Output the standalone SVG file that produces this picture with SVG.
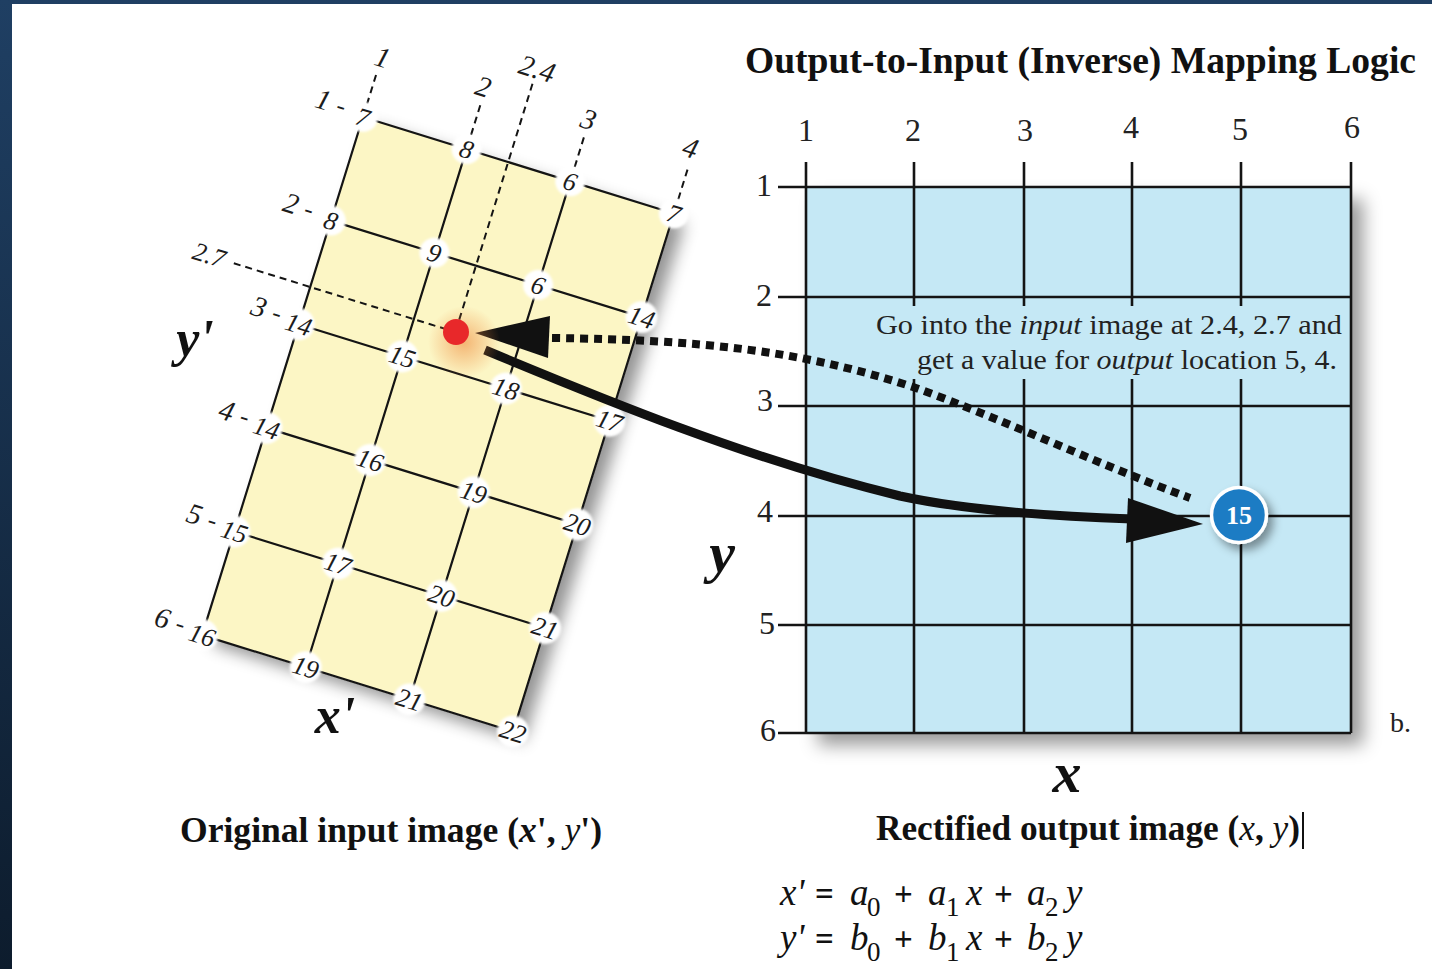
<svg xmlns="http://www.w3.org/2000/svg" width="1432" height="969" viewBox="0 0 1432 969">
<defs>
<linearGradient id="frame" x1="0" y1="0" x2="0" y2="1">
<stop offset="0" stop-color="#1f3f63"/>
<stop offset="1" stop-color="#0d1c2d"/>
</linearGradient>
<filter id="shadowL" x="-20%" y="-20%" width="150%" height="150%">
<feDropShadow dx="13" dy="6" stdDeviation="8" flood-color="#000" flood-opacity="0.42"/>
</filter>
<filter id="shadowR" x="-20%" y="-20%" width="150%" height="150%">
<feDropShadow dx="12" dy="12" stdDeviation="9" flood-color="#000" flood-opacity="0.4"/>
</filter>
<filter id="shadowS" x="-50%" y="-50%" width="200%" height="200%">
<feDropShadow dx="5" dy="6" stdDeviation="5" flood-color="#000" flood-opacity="0.4"/>
</filter>
<filter id="soft" x="-50%" y="-50%" width="200%" height="200%">
<feGaussianBlur stdDeviation="1.3"/>
</filter>
<radialGradient id="redglow">
<stop offset="0" stop-color="#ee8a3c" stop-opacity="0.6"/>
<stop offset="1" stop-color="#ee8a3c" stop-opacity="0"/>
</radialGradient>
<style>
.ln{stroke:#141414;stroke-width:2.2;fill:none}
.rl{stroke:#141414;stroke-width:2.6;fill:none}
.dsh{stroke:#141414;stroke-width:2;stroke-dasharray:7 5;fill:none}
.pc{fill:#fff;filter:url(#soft)}
.lb{font-family:"Liberation Serif",serif;font-style:italic;font-size:26px;fill:#1c1c1c;text-anchor:middle}
.pf{font-family:"Liberation Serif",serif;font-style:italic;font-size:29px;fill:#1c1c1c;text-anchor:middle}
.cl{font-family:"Liberation Serif",serif;font-style:italic;font-size:29px;fill:#1c1c1c;text-anchor:middle}
.ax{font-family:"Liberation Serif",serif;font-size:32px;fill:#222;text-anchor:middle}
.ry{font-family:"Liberation Serif",serif;font-size:32px;fill:#222;text-anchor:end}
.big{font-family:"Liberation Serif",serif;font-style:italic;font-weight:bold;fill:#111;text-anchor:middle}
.cap{font-family:"Liberation Serif",serif;font-weight:bold;font-size:35px;fill:#111}
.note{font-family:"Liberation Serif",serif;font-size:28px;fill:#222;text-anchor:end}
.eq{font-family:"Liberation Serif",serif;font-style:italic;font-size:37px;fill:#111}
.op{font-family:"Liberation Serif",serif;font-weight:bold;font-size:33px;fill:#111}
.sb{font-family:"Liberation Serif",serif;font-size:27px;fill:#111}
</style>
</defs>

<rect x="0" y="0" width="1432" height="969" fill="url(#frame)"/>
<rect x="12" y="4" width="1420" height="965" fill="#ffffff"/>

<g id="input-grid" transform="translate(363,117) rotate(17.25)">
<rect x="0" y="0" width="325.5" height="542.5" fill="#fcf6c5" filter="url(#shadowL)"/>
<path class="ln" d="M0,0H325.5M0,108.5H325.5M0,217H325.5M0,325.5H325.5M0,434H325.5M0,542.5H325.5M0,0V542.5M108.5,0V542.5M217,0V542.5M325.5,0V542.5"/>
<path class="dsh" d="M0,-44V-14M108.5,-46V-14M217,-46V-14M325.5,-46V-14"/>
<path class="dsh" d="M152,-82V178M-80,178H152"/>
<text class="cl" x="1" y="-53">1</text>
<text class="cl" x="106" y="-55">2</text>
<text class="cl" x="152" y="-88">2.4</text>
<text class="cl" x="216" y="-55">3</text>
<text class="cl" x="322" y="-58">4</text>
<text class="lb" x="-106" y="186">2.7</text>
<g>
<circle class="pc" cx="0" cy="0" r="15"/><circle class="pc" cx="108.5" cy="0" r="15"/><circle class="pc" cx="217" cy="0" r="15"/><circle class="pc" cx="325.5" cy="0" r="15"/>
<circle class="pc" cx="0" cy="108.5" r="15"/><circle class="pc" cx="108.5" cy="108.5" r="15"/><circle class="pc" cx="217" cy="108.5" r="15"/><circle class="pc" cx="325.5" cy="108.5" r="16"/>
<circle class="pc" cx="0" cy="217" r="16"/><circle class="pc" cx="108.5" cy="217" r="16"/><circle class="pc" cx="217" cy="217" r="16"/><circle class="pc" cx="325.5" cy="217" r="16"/>
<circle class="pc" cx="0" cy="325.5" r="16"/><circle class="pc" cx="108.5" cy="325.5" r="16"/><circle class="pc" cx="217" cy="325.5" r="16"/><circle class="pc" cx="325.5" cy="325.5" r="16"/>
<circle class="pc" cx="0" cy="434" r="16"/><circle class="pc" cx="108.5" cy="434" r="16"/><circle class="pc" cx="217" cy="434" r="16"/><circle class="pc" cx="325.5" cy="434" r="16"/>
<circle class="pc" cx="0" cy="542.5" r="16"/><circle class="pc" cx="108.5" cy="542.5" r="16"/><circle class="pc" cx="217" cy="542.5" r="16"/><circle class="pc" cx="325.5" cy="542.5" r="16"/>
</g>
<text class="lb" x="0" y="9">7</text><text class="lb" x="108.5" y="9">8</text><text class="lb" x="217" y="9">6</text><text class="lb" x="325.5" y="9">7</text>
<text class="lb" x="0" y="117.5">8</text><text class="lb" x="108.5" y="117.5">9</text><text class="lb" x="217" y="117.5">6</text><text class="lb" x="325.5" y="117.5">14</text>
<text class="lb" x="0" y="226">14</text><text class="lb" x="108.5" y="226">15</text><text class="lb" x="217" y="226">18</text><text class="lb" x="325.5" y="226">17</text>
<text class="lb" x="0" y="334.5">14</text><text class="lb" x="108.5" y="334.5">16</text><text class="lb" x="217" y="334.5">19</text><text class="lb" x="325.5" y="334.5">20</text>
<text class="lb" x="0" y="443">15</text><text class="lb" x="108.5" y="443">17</text><text class="lb" x="217" y="443">20</text><text class="lb" x="325.5" y="443">21</text>
<text class="lb" x="0" y="551.5">16</text><text class="lb" x="108.5" y="551.5">19</text><text class="lb" x="217" y="551.5">21</text><text class="lb" x="325.5" y="551.5">22</text>
<text class="pf" x="-43" y="5">1</text><text class="lb" x="-24" y="4">-</text>
<text class="pf" x="-43" y="113.5">2</text><text class="lb" x="-24" y="112.5">-</text>
<text class="pf" x="-43" y="222">3</text><text class="lb" x="-24" y="221">-</text>
<text class="pf" x="-43" y="330.5">4</text><text class="lb" x="-24" y="329.5">-</text>
<text class="pf" x="-43" y="439">5</text><text class="lb" x="-24" y="438">-</text>
<text class="pf" x="-43" y="547.5">6</text><text class="lb" x="-24" y="546.5">-</text>
</g>
<text class="big" x="195" y="356" font-size="52">y'</text>
<text class="big" x="335" y="733" font-size="52">x'</text>

<g id="output-grid">
<rect x="806" y="187" width="545" height="546" fill="#c5e8f5" filter="url(#shadowR)"/>
<path class="rl" d="M806,162V733M914,162V733M1024,162V733M1132,162V733M1241,162V733M1351,162V733"/>
<path class="rl" d="M778,187H1351M778,297H1351M778,406H1351M778,516H1351M778,625H1351M778,733H1351"/>
<rect x="866" y="306" width="480" height="73" fill="#c5e8f5"/>
<text class="ax" x="806" y="141">1</text>
<text class="ax" x="913" y="141">2</text>
<text class="ax" x="1025" y="141">3</text>
<text class="ax" x="1131" y="138">4</text>
<text class="ax" x="1240" y="140">5</text>
<text class="ax" x="1352" y="138">6</text>
<text class="ry" x="772" y="196">1</text>
<text class="ry" x="772" y="306">2</text>
<text class="ry" x="773" y="411">3</text>
<text class="ry" x="773" y="522">4</text>
<text class="ry" x="775" y="634">5</text>
<text class="ry" x="776" y="741">6</text>
<text class="note" x="1342" y="334" textLength="466" lengthAdjust="spacingAndGlyphs">Go into the <tspan font-style="italic">input</tspan> image at 2.4, 2.7 and</text>
<text class="note" x="1337" y="369" textLength="420" lengthAdjust="spacingAndGlyphs">get a value for <tspan font-style="italic">output</tspan> location 5, 4.</text>
</g>
<text class="big" x="722" y="572" font-size="58">y</text>
<text class="big" x="1067" y="792" font-size="58">x</text>
<text x="1390" y="732" font-family="Liberation Serif, serif" font-size="28" fill="#222">b.</text>

<text x="745" y="73" font-family="Liberation Serif, serif" font-weight="bold" font-size="37" fill="#111" textLength="671" lengthAdjust="spacingAndGlyphs">Output-to-Input (Inverse) Mapping Logic</text>

<g id="connectors">
<path d="M552,338 C700,340 800,350 913,387 C1000,418 1100,465 1190,498" fill="none" stroke="#111" stroke-width="8" stroke-dasharray="8 6"/>
<polygon points="475,333 550,316 548,358" fill="#111"/>
<path d="M485,350 C600,398 750,460 900,496 C960,509 1040,516 1132,519" fill="none" stroke="#111" stroke-width="9"/>
<polygon points="1203,524 1128,498 1126,543" fill="#111"/>
</g>

<g id="output-point">
<circle cx="1239" cy="515" r="27.5" fill="#1f7cc4" stroke="#fff" stroke-width="3.5" filter="url(#shadowS)"/>
<text x="1239" y="524" font-family="Liberation Serif, serif" font-weight="bold" font-size="26" fill="#fff" text-anchor="middle">15</text>
</g>

<g id="input-point">
<circle cx="464" cy="342" r="36" fill="url(#redglow)"/>
<circle cx="456" cy="332" r="13" fill="#e8282a"/>
</g>

<text class="cap" x="180" y="842" textLength="422" lengthAdjust="spacingAndGlyphs">Original input image (<tspan font-style="italic">x</tspan>', <tspan font-style="italic" font-weight="normal">y</tspan>')</text>
<text class="cap" x="876" y="840" textLength="424" lengthAdjust="spacingAndGlyphs">Rectified output image (<tspan font-style="italic" font-weight="normal">x</tspan>, <tspan font-style="italic" font-weight="normal">y</tspan>)</text>
<line x1="1303" y1="812" x2="1303" y2="849" stroke="#111" stroke-width="2"/>

<g id="equations">
<text class="eq" x="780" y="905">x'</text><text class="op" x="815" y="905">=</text>
<text class="eq" x="850" y="905">a</text><text class="sb" x="867" y="916">0</text>
<text class="op" x="894" y="905">+</text>
<text class="eq" x="928" y="905">a</text><text class="sb" x="946" y="916">1</text>
<text class="eq" x="966" y="905">x</text>
<text class="op" x="994" y="905">+</text>
<text class="eq" x="1027" y="905">a</text><text class="sb" x="1045" y="916">2</text>
<text class="eq" x="1066" y="905">y</text>
<text class="eq" x="780" y="950">y'</text><text class="op" x="815" y="950">=</text>
<text class="eq" x="850" y="950">b</text><text class="sb" x="867" y="961">0</text>
<text class="op" x="894" y="950">+</text>
<text class="eq" x="928" y="950">b</text><text class="sb" x="946" y="961">1</text>
<text class="eq" x="966" y="950">x</text>
<text class="op" x="994" y="950">+</text>
<text class="eq" x="1027" y="950">b</text><text class="sb" x="1045" y="961">2</text>
<text class="eq" x="1066" y="950">y</text>
</g>
</svg>
